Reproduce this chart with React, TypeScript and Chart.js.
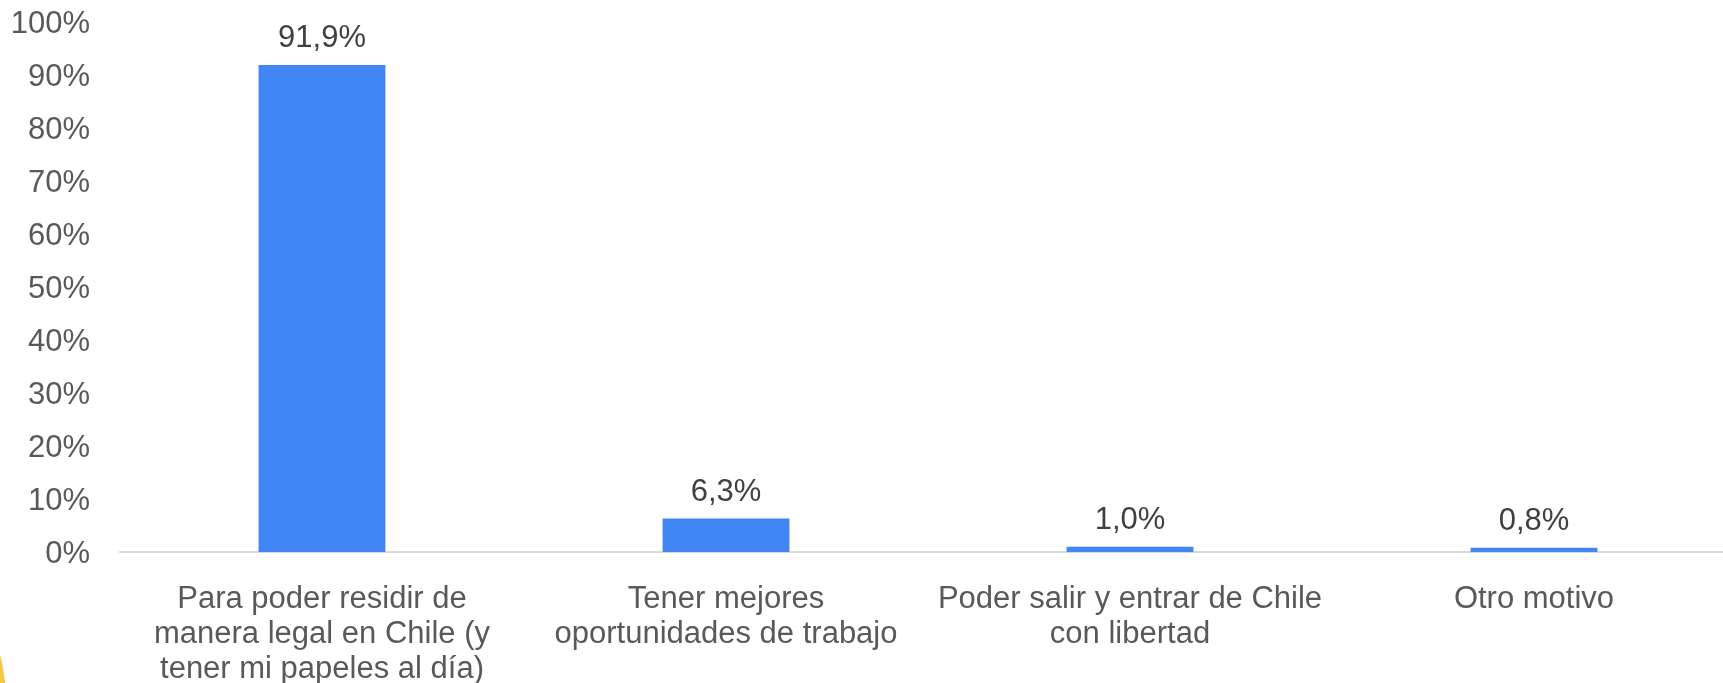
import React, { useEffect, useRef } from "react";
import { Chart, registerables } from "chart.js";

Chart.register(...registerables);

const categories: string[][] = [
  ["Para poder residir de", "manera legal en Chile (y", "tener mi papeles al día)"],
  ["Tener mejores", "oportunidades de trabajo"],
  ["Poder salir y entrar de Chile", "con libertad"],
  ["Otro motivo"],
];
const values: number[] = [91.9, 6.3, 1.0, 0.8];
const yMax = 100;
const yStep = 10;

const FONT = "'Liberation Sans', Arial, sans-serif";

const dataLabelPlugin = {
  id: "dataLabels",
  afterDatasetsDraw(chart: any) {
    const ctx = chart.ctx;
    const meta = chart.getDatasetMeta(0);
    ctx.save();
    ctx.font = `31px ${FONT}`;
    ctx.fillStyle = "#404040";
    ctx.textAlign = "center";
    ctx.textBaseline = "alphabetic";
    meta.data.forEach((bar: any, i: number) => {
      const v = values[i];
      const txt = v.toFixed(1).replace(".", ",") + "%";
      ctx.fillText(txt, bar.x, bar.y - 18);
    });
    ctx.restore();
  },
};

export default function App() {
  const ref = useRef<HTMLCanvasElement | null>(null);
  useEffect(() => {
    if (!ref.current) return;
    const chart = new Chart(ref.current, {
      type: "bar",
      data: {
        labels: categories,
        datasets: [
          {
            data: values,
            backgroundColor: "#4285F4",
            borderWidth: 0,
            barPercentage: 0.314,
            categoryPercentage: 1,
          },
        ],
      },
      options: {
        responsive: false,
        animation: false,
        devicePixelRatio: 1,
        layout: { padding: { left: 0, right: 9, top: 22, bottom: 0 } },
        plugins: {
          legend: { display: false },
          tooltip: { enabled: false },
        },
        scales: {
          x: {
            offset: true,
            grid: { display: false, drawTicks: false },
            border: { display: true, color: "#d9d9d9", width: 2 },
            ticks: {
              autoSkip: false,
              maxRotation: 0,
              minRotation: 0,
              padding: 30,
              color: "#595959",
              font: { family: FONT, size: 31, lineHeight: "35px" } as any,
            },
            afterFit: (s: any) => {
              s.height = 131;
              s.paddingLeft = 0;
              s.paddingRight = 0;
            },
          },
          y: {
            min: 0,
            max: yMax,
            grid: { display: false, drawTicks: false },
            border: { display: false },
            ticks: {
              stepSize: yStep,
              padding: 30,
              labelOffset: 2,
              color: "#595959",
              font: { family: FONT, size: 31, lineHeight: "35px" } as any,
              callback: (v: any) => `${v}%`,
            },
            afterFit: (s: any) => {
              s.width = 120;
              s.paddingTop = 0;
              s.paddingBottom = 0;
            },
          },
        },
      },
      plugins: [dataLabelPlugin],
    });
    return () => chart.destroy();
  }, []);

  return (
    <div
      style={{
        position: "fixed",
        left: 0,
        top: 0,
        width: 1723,
        height: 683,
        overflow: "hidden",
        background: "#ffffff",
      }}
    >
      <canvas ref={ref} width={1745} height={683} style={{ display: "block" }} />
      <div
        style={{
          position: "absolute",
          left: -340,
          top: 527,
          width: 346,
          height: 346,
          borderRadius: "50%",
          background: "#F6C744",
        }}
      />
    </div>
  );
}
